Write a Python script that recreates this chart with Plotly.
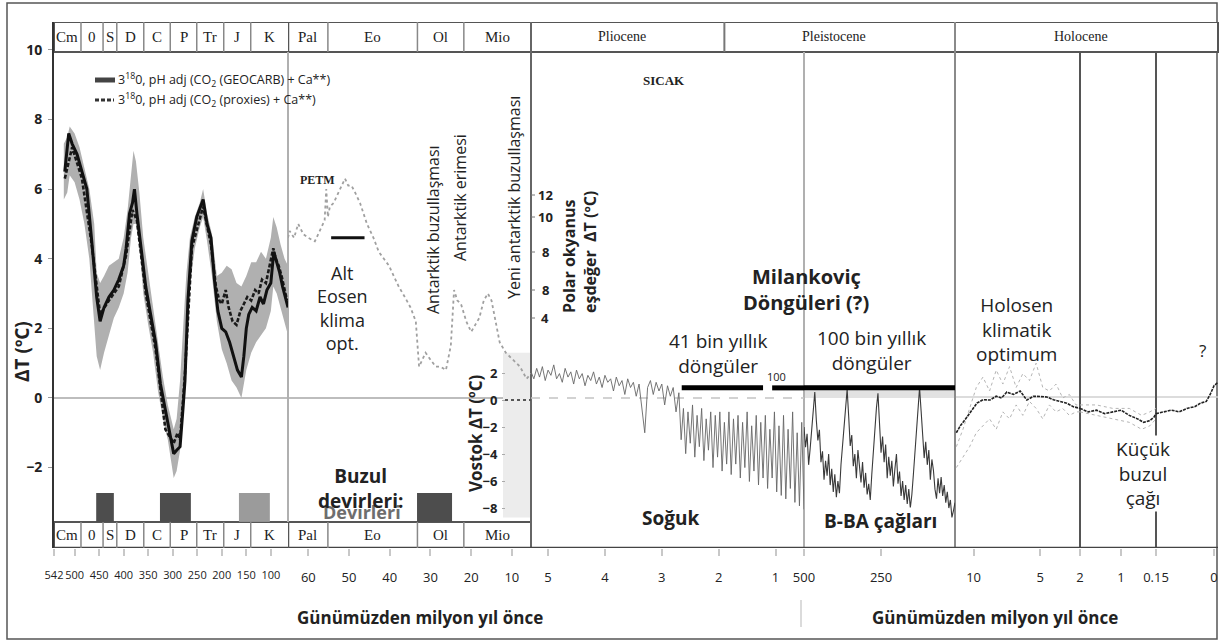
import plotly.graph_objects as go

# ---------------------------------------------------------------- data
# Phanerozoic, ages in Ma, temperature anomaly in degC
PHAN_AGE = [520, 512, 505, 495, 485, 475, 465, 455, 448, 440,
            430, 420, 410, 400, 395, 388, 382, 378, 373, 365,
            355, 345, 335, 325, 312, 302, 298, 292, 285, 279,
            275, 269, 261, 251, 238, 230, 222, 215, 208, 200,
            192, 184, 176, 168, 160, 155, 150, 145, 138, 130,
            122, 115, 108, 100, 94, 88, 82, 76, 70, 65]
GEOCARB_DT = [6.5, 7.6, 7.3, 7.0, 6.5, 6.0, 4.5, 2.9, 2.2, 2.6,
              2.9, 3.1, 3.4, 3.8, 4.3, 5.3, 5.6, 6.0, 5.3, 4.4,
              3.2, 2.4, 1.6, 0.4, -0.6, -1.4, -1.6, -1.5, -1.4, -0.3,
              0.5, 2.8, 4.5, 5.2, 5.7, 5.0, 4.6, 3.4, 2.5, 2.0,
              1.9, 1.6, 1.2, 0.8, 0.6, 1.2, 2.0, 2.4, 2.6, 2.5,
              2.9, 2.7, 3.1, 3.3, 4.2, 3.9, 3.6, 3.2, 2.9, 2.6]

PROXY_AGE = [520, 505, 485, 465, 448, 430, 410, 395, 382, 373,
             355, 335, 315, 302, 298, 290, 285, 275, 261, 238,
             222, 212, 205, 200, 196, 192, 186, 178, 170, 162,
             155, 148, 140, 132, 125, 118, 110, 102, 95, 90,
             84, 78, 72, 67]
PROXY_DT = [6.3, 7.2, 6.3, 4.4, 2.4, 2.8, 3.2, 4.1, 5.4, 5.1,
            3.0, 1.4, -0.9, -1.2, -1.3, -1.0, -1.2, 0.7, 4.3, 5.5,
            4.4, 3.2, 2.8, 2.7, 2.9, 3.1, 2.6, 2.2, 2.1, 2.5,
            2.7, 2.9, 2.8, 3.1, 3.0, 3.4, 3.3, 3.8, 4.3, 4.0,
            3.8, 3.5, 3.1, 2.8]

BAND_AGE = [522, 515, 510, 500, 490, 480, 470, 460, 455, 448,
            440, 430, 420, 410, 400, 392, 385, 380, 375, 368,
            360, 350, 340, 330, 320, 310, 302, 298, 292, 285,
            278, 272, 265, 255, 245, 238, 230, 220, 210, 200,
            190, 180, 170, 160, 150, 140, 130, 120, 110, 100,
            95, 88, 80, 72, 65]
BAND_LO = [5.7, 5.9, 6.4, 6.2, 5.7, 5.0, 4.0, 2.2, 1.2, 0.8,
           1.3, 1.8, 2.3, 2.6, 3.0, 3.6, 4.6, 5.0, 5.0, 4.4,
           3.0, 2.1, 1.3, 0.2, -0.6, -1.2, -1.9, -2.3, -2.1, -1.5,
           0.0, 1.8, 3.2, 4.3, 4.9, 5.2, 4.5, 3.5, 2.2, 1.4,
           1.0, 0.5, 0.3, 0.0, 0.8, 1.3, 1.6, 1.8, 2.0, 2.5,
           3.2, 3.0, 2.6, 2.2, 1.8]
BAND_HI = [7.3, 7.5, 7.8, 7.6, 7.2, 6.6, 6.0, 5.0, 3.6, 3.3,
           3.5, 3.8, 3.9, 4.0, 4.6, 5.4, 6.4, 7.1, 6.8, 5.9,
           4.6, 3.6, 2.6, 1.5, 0.6, -0.2, -0.7, -0.9, -0.6, 0.5,
           2.2, 3.6, 4.6, 5.2, 5.6, 6.0, 5.3, 4.7, 3.5, 3.6,
           3.8, 3.7, 3.3, 3.2, 3.5, 3.9, 3.9, 4.2, 4.0, 4.6,
           5.2, 4.9, 4.4, 4.0, 3.8]

# Cenozoic deep-sea record, Ma
CENO_AGE = [65.0, 64.6, 63.5, 62.5, 61.2, 60.0, 58.4, 57.5, 56.8, 56.0,
            55.6, 55.2, 54.7, 53.8, 53.0, 52.0, 51.0, 50.2, 49.4, 48.5,
            47.3, 45.6, 44.0, 42.7, 41.5, 40.2, 39.0, 37.8, 36.3, 34.9,
            33.6, 33.2, 32.8, 32.0, 31.2, 30.0, 28.7, 27.5, 26.2, 25.0,
            24.6, 24.2, 23.4, 22.5, 21.2, 20.0, 19.0, 18.0, 16.9, 15.9,
            15.0, 14.3, 13.6, 13.0, 11.5, 9.7, 8.0, 6.4, 5.3]
CENO_DT = [4.6, 4.8, 4.6, 5.0, 4.7, 4.6, 4.5, 4.7, 4.9, 5.1,
           6.0, 5.2, 5.5, 5.6, 5.8, 6.0, 6.3, 6.1, 6.1, 5.9,
           5.6, 5.0, 4.6, 4.2, 4.0, 3.8, 3.5, 3.2, 2.9, 2.6,
           2.2, 1.4, 0.9, 1.1, 1.3, 1.1, 0.9, 0.9, 0.8, 1.5,
           2.4, 3.1, 2.8, 2.7, 2.2, 1.9, 2.1, 2.3, 2.8, 3.0,
           2.8, 2.4, 1.9, 1.6, 1.3, 1.1, 0.9, 0.55, 0.7]

# Pliocene - Pleistocene benthic stack, Ma
PLIO_AGE = [5.30, 5.25, 5.20, 5.15, 5.10, 5.05, 5.00, 4.95, 4.90, 4.85,
            4.80, 4.75, 4.70, 4.65, 4.60, 4.55, 4.50, 4.45, 4.40, 4.35,
            4.30, 4.25, 4.20, 4.15, 4.10, 4.05, 4.00, 3.95, 3.90, 3.85,
            3.80, 3.75, 3.70, 3.65, 3.60, 3.55, 3.50, 3.45, 3.40, 3.35,
            3.30, 3.25, 3.20, 3.15, 3.10, 3.05, 3.00, 2.95, 2.90, 2.85,
            2.80, 2.75, 2.70, 2.66, 2.62, 2.58, 2.54, 2.50, 2.46, 2.42,
            2.38, 2.34, 2.30, 2.26, 2.22, 2.18, 2.14, 2.10, 2.06, 2.02,
            1.98, 1.94, 1.90, 1.86, 1.82, 1.78, 1.74, 1.70, 1.66, 1.62,
            1.58, 1.54, 1.50, 1.46, 1.42, 1.38, 1.34, 1.30, 1.26, 1.22,
            1.18, 1.14, 1.10, 1.06, 1.02, 0.98, 0.94, 0.90, 0.86, 0.82,
            0.78, 0.74, 0.70, 0.66, 0.62, 0.58, 0.54, 0.50]
PLIO_DT = [0.75, 0.55, 0.85, 0.60, 0.90, 0.50, 0.80, 0.65, 0.95, 0.55,
           0.70, 0.45, 0.85, 0.60, 0.75, 0.40, 0.80, 0.55, 0.70, 0.35,
           0.65, 0.50, 0.75, 0.40, 0.60, 0.30, 0.65, 0.45, 0.55, 0.20,
           0.60, 0.35, 0.50, 0.10, 0.55, 0.30, 0.45, 0.05, 0.40, -0.30,
           -1.00, 0.30, 0.50, 0.10, 0.45, 0.20, 0.40, -0.20, 0.35, 0.05,
           0.30, -0.40, 0.15, -1.20, -0.30, -1.60, -0.40, -1.30, -0.20, -1.70,
           -0.50, -1.40, -0.30, -1.80, -0.60, -1.50, -0.40, -2.00, -0.50, -1.70,
           -0.40, -2.10, -0.70, -1.90, -0.40, -2.20, -0.60, -1.90, -0.50, -2.30,
           -0.70, -2.00, -0.40, -2.40, -0.80, -2.10, -0.50, -2.50, -0.70, -2.30,
           -0.50, -2.60, -0.90, -2.30, -0.40, -2.70, -0.80, -2.80, -0.50, -2.90,
           -0.90, -2.60, -0.40, -3.00, -1.00, -3.10, -0.70, -3.20]

# Vostok ice core, ka, on its own temperature scale
VOSTOK_AGE_KA = [500, 495, 490, 485, 480, 475, 470, 465, 460, 455,
                 450, 445, 440, 435, 430, 425, 420, 415, 410, 405,
                 400, 395, 390, 385, 380, 375, 370, 365, 360, 355,
                 350, 345, 340, 335, 330, 325, 320, 315, 310, 305,
                 300, 295, 290, 285, 280, 275, 270, 265, 260, 255,
                 250, 245, 240, 235, 230, 225, 220, 215, 210, 205,
                 200, 195, 190, 185, 180, 175, 170, 165, 160, 155,
                 150, 145, 140, 135, 130, 125, 120, 115, 110, 105,
                 100, 95, 90, 85, 80, 75, 70, 65, 60, 55,
                 50, 45, 40, 35, 30, 25, 20, 15, 10]
VOSTOK_DT = [-2.0, -3.5, -2.5, -4.8, -3.6, -2.2, -0.8, 0.6, -1.5, -3.0,
             -2.2, -4.6, -3.8, -5.9, -4.5, -5.6, -4.0, -6.3, -5.1, -6.8,
             -5.5, -7.2, -6.0, -6.9, -4.8, -3.5, -1.8, -0.5, 0.8, -1.2,
             -3.4, -2.6, -4.9, -4.0, -5.8, -3.7, -5.2, -6.1, -4.6, -6.5,
             -5.4, -7.0, -6.2, -7.4, -5.5, -3.6, -1.9, -0.6, 0.5, -1.8,
             -3.9, -2.7, -4.6, -3.3, -5.8, -4.2, -5.6, -4.5, -6.4, -5.1,
             -4.0, -6.2, -5.3, -7.1, -6.0, -7.4, -6.3, -7.7, -6.6, -8.0,
             -7.0, -5.5, -3.8, -2.0, -0.6, 0.9, -0.8, -2.6, -4.3, -3.1,
             -4.8, -3.7, -5.9, -4.4, -5.2, -6.6, -7.3, -5.8, -6.9, -5.7,
             -7.1, -6.3, -7.6, -6.8, -8.0, -7.4, -8.7, -8.2, -7.6]

# Holocene, ka
HOLO_AGE_KA = [11.3, 11.0, 10.5, 10.0, 9.75, 9.3, 8.77, 8.3, 7.9, 7.5,
               7.0, 6.5, 6.0, 5.5, 5.0, 4.5, 4.0, 3.5, 3.0, 2.5,
               2.0, 1.8, 1.6, 1.4, 1.2, 1.0, 0.8, 0.6, 0.45, 0.3,
               0.2, 0.15, 0.13, 0.11, 0.09, 0.07, 0.05, 0.035, 0.02, 0.01,
               0.0, -0.01]
HOLO_DT = [-1.0, -0.8, -0.55, -0.3, -0.15, -0.05, -0.06, 0.05, 0.0, 0.17,
           0.1, 0.2, -0.06, 0.05, 0.03, 0.03, -0.05, -0.1, -0.15, -0.25,
           -0.3, -0.4, -0.35, -0.45, -0.4, -0.35, -0.5, -0.6, -0.7, -0.65,
           -0.55, -0.45, -0.4, -0.35, -0.4, -0.3, -0.25, -0.15, -0.1, 0.1,
           0.35, 0.45]
HOLO_AGE_B = [11.3, 10.8, 10.3, 9.8, 9.3, 8.8, 8.3, 7.8, 7.3, 6.8,
              6.3, 5.8, 5.3, 4.8, 4.3, 3.8, 3.3, 2.8, 2.3, 2.0,
              1.6, 1.2, 0.8, 0.5, 0.3, 0.15]
HOLO_WARM_DT = [-1.4, -0.9, -0.3, 0.3, 0.6, 0.2, 0.8, 0.4, 0.9, 0.3,
                0.7, 0.5, 1.0, 0.3, 0.2, 0.4, 0.0, 0.1, -0.2, -0.2,
                -0.2, -0.3, -0.3, -0.5, -0.4, -0.3]
HOLO_COOL_DT = [-2.0, -1.7, -1.4, -1.0, -0.8, -0.6, -0.9, -0.4, -0.6, -0.2,
                -0.5, -0.1, -0.3, -0.6, -0.2, -0.4, -0.3, -0.5, -0.4, -0.4,
                -0.5, -0.6, -0.7, -0.9, -0.8, -0.6]

# geological time scale
PERIODS_A = ["Cm", "0", "S", "D", "C", "P", "Tr", "J", "K"]
PERIOD_EDGES_A = [542, 487, 442, 414, 359, 305, 251, 196, 141, 65]
PERIODS_B = ["Pal", "Eo", "Ol", "Mio"]
PERIOD_EDGES_B = [65, 55.2, 33.2, 21.8, 5.3]
EPOCHS = ["Pliocene", "Pleistocene", "Holocene"]
PLEISTOCENE_START_MA = 1.9

# glaciations (Ma) and their shade
GLACIALS_A = [(456, 420), (326, 263), (165, 102)]
GLACIAL_SHADES_A = ["#4d4d4d", "#4d4d4d", "#9b9b9b"]
GLACIALS_B = [(33.3, 24.7)]

EECO_SPAN = (54.4, 46.2)
EECO_DT = 4.6
CYCLE41_SPAN_MA = (2.65, 1.22)
CYCLE100_START_MA = 1.06
CYCLE100_END_KA = 10
CYCLE_LEVEL = 0.29

POLAR_TICKS = ["12", "10", "8", "8", "4"]

# ---------------------------------------------------------------- layout helpers
L, R, T, B = 54, 1218, 22, 548          # plot area in pixels
YR = (-4.31, 10.8)

# panel: pixel span, value span
SEG = {
    "x":  (54, 288, 542, 65),
    "x2": (288, 531, 65, 5.3),
    "x3": (531, 804, 5.3, 0.5),
    "x4": (804, 955, 500, 10),
    "x5": (955, 1080, 11.4, 2.0),
    "x6": (1080, 1156, 2.0, 0.15),
    "x7": (1156, 1218, 0.15, -0.0103),
}


def P(px):
    return (px - L) / (R - L)


def Q(py):
    return (B - py) / (B - T)


def xpx(ax, v):
    p0, p1, v0, v1 = SEG[ax]
    return p0 + (v - v0) * (p1 - p0) / (v1 - v0)


fig = go.Figure()

# Phanerozoic band and curves
fig.add_trace(go.Scatter(x=BAND_AGE, y=BAND_HI, mode="lines", line=dict(width=0),
                         xaxis="x", yaxis="y", hoverinfo="skip", showlegend=False))
fig.add_trace(go.Scatter(x=BAND_AGE, y=BAND_LO, mode="lines", line=dict(width=0),
                         fill="tonexty", fillcolor="#b0b0b0",
                         xaxis="x", yaxis="y", hoverinfo="skip", showlegend=False))
fig.add_trace(go.Scatter(x=PROXY_AGE, y=PROXY_DT, mode="lines",
                         line=dict(color="#1a1a1a", width=2.6, dash="4px,2px"),
                         xaxis="x", yaxis="y", showlegend=False))
fig.add_trace(go.Scatter(x=PHAN_AGE, y=GEOCARB_DT, mode="lines",
                         line=dict(color="#111111", width=3),
                         xaxis="x", yaxis="y", showlegend=False))

# Cenozoic
fig.add_trace(go.Scatter(x=CENO_AGE, y=CENO_DT, mode="lines",
                         line=dict(color="#a0a0a0", width=1.8, dash="dot"),
                         xaxis="x2", yaxis="y", showlegend=False))

# Pliocene - Pleistocene
fig.add_trace(go.Scatter(x=PLIO_AGE, y=PLIO_DT, mode="lines",
                         line=dict(color="#666666", width=0.9),
                         xaxis="x3", yaxis="y", showlegend=False))

# Vostok
fig.add_trace(go.Scatter(x=VOSTOK_AGE_KA, y=VOSTOK_DT, mode="lines",
                         line=dict(color="#3a3a3a", width=1.1),
                         xaxis="x4", yaxis="y2", showlegend=False))


# Holocene, split over its three panels
def holo_part(ages, vals, ax):
    p0, p1, v0, v1 = SEG[ax]
    lo, hi = min(v0, v1), max(v0, v1)
    pts = [(a, v) for a, v in zip(ages, vals) if lo - 1e-9 <= a <= hi + 1e-9]
    return [p[0] for p in pts], [p[1] for p in pts]


for ax in ("x5", "x6", "x7"):
    for vals in (HOLO_WARM_DT, HOLO_COOL_DT):
        xs, ys = holo_part(HOLO_AGE_B, vals, ax)
        if xs:
            fig.add_trace(go.Scatter(x=xs, y=ys, mode="lines",
                                     line=dict(color="#b5b5b5", width=1, dash="dot"),
                                     xaxis=ax, yaxis="y", showlegend=False))
    xs, ys = holo_part(HOLO_AGE_KA, HOLO_DT, ax)
    fig.add_trace(go.Scatter(x=xs, y=ys, mode="lines",
                             line=dict(color="#222222", width=1.6, dash="3px,1px"),
                             xaxis=ax, yaxis="y", showlegend=False))

# ---------------------------------------------------------------- axes
TICKS = {
    "x": ([542, 500, 450, 400, 350, 300, 250, 200, 150, 100], None),
    "x2": ([60, 50, 40, 30, 20, 10], None),
    "x3": ([5, 4, 3, 2, 1], None),
    "x4": ([499.9, 250], ["500", "250"]),
    "x5": ([10, 5], None),
    "x6": ([1.999, 1], ["2", "1"]),
    "x7": ([0.1499, 0], ["0.15", "0"]),
}
layout_axes = {}
for ax, (p0, p1, v0, v1) in SEG.items():
    tv, tt = TICKS[ax]
    key = "xaxis" if ax == "x" else "xaxis" + ax[1:]
    layout_axes[key] = dict(
        domain=[P(p0), P(p1)], range=[v0, v1], anchor="y",
        tickvals=tv, ticktext=tt if tt else [str(t) for t in tv],
        ticks="outside", ticklen=7, tickcolor="#c8c8c8", tickwidth=1.5,
        tickangle=0, ticklabelstandoff=10,
        tickfont=dict(family="Open Sans", size=11 if ax == "x" else 13, color="#222"),
        showgrid=False, zeroline=False, showline=False,
    )

layout_axes["yaxis"] = dict(
    range=list(YR), tickvals=[10, 8, 6, 4, 2, 0, -2],
    ticks="outside", ticklen=4, tickcolor="#999",
    showline=True, linecolor="#333", linewidth=2,
    tickfont=dict(family="Open Sans", size=14, color="#222", weight="bold"),
    showgrid=False, zeroline=False, ticklabelstandoff=3,
)
layout_axes["yaxis2"] = dict(
    overlaying="y", anchor="free", position=P(505), side="left",
    range=[-10.96, 28.0], tickvals=[2, 0, -2, -4, -6, -8],
    ticks="outside", ticklen=3, tickcolor="#aaa",
    tickfont=dict(family="Open Sans", size=13, color="#222", weight="bold"),
    showline=False, showgrid=False, zeroline=False, ticklabelstandoff=2,
)

# ---------------------------------------------------------------- shapes
shapes = []


def pline(x0, y0, x1, y1, color, width, dash="solid"):
    shapes.append(dict(type="line", xref="paper", yref="paper",
                       x0=P(x0), x1=P(x1), y0=Q(y0), y1=Q(y1),
                       line=dict(color=color, width=width, dash=dash), layer="above"))


# outer frame
shapes.append(dict(type="rect", xref="paper", yref="paper",
                   x0=P(7), x1=P(1217), y0=Q(639), y1=Q(3),
                   line=dict(color="#555", width=1.5), layer="below"))

# zero lines and reference bands
shapes.append(dict(type="line", xref="paper", yref="y", x0=0, x1=P(503), y0=0, y1=0,
                   line=dict(color="#bdbdbd", width=2), layer="below"))
shapes.append(dict(type="rect", xref="paper", yref="y2", x0=P(503), x1=P(530),
                   y0=-8.7, y1=3.5, fillcolor="#ececec", line=dict(width=0), layer="below"))
shapes.append(dict(type="line", xref="paper", yref="y2", x0=P(505), x1=P(531), y0=0, y1=0,
                   line=dict(color="#555", width=2, dash="dot"), layer="above"))
shapes.append(dict(type="line", xref="x3", yref="y", x0=5.3, x1=0.5, y0=0, y1=0,
                   line=dict(color="#c4c4c4", width=1.5, dash="dash"), layer="below"))
shapes.append(dict(type="rect", xref="x4", yref="y", x0=500, x1=10, y0=0, y1=0.35,
                   fillcolor="#e2e2e2", line=dict(width=0), layer="below"))
shapes.append(dict(type="line", xref="paper", yref="y", x0=P(955), x1=1, y0=0.03, y1=0.03,
                   line=dict(color="#d0d0d0", width=1.5), layer="below"))

# glaciation bars
g_top, g_bot = -2.73, -3.56
for (a0, a1), col in zip(GLACIALS_A, GLACIAL_SHADES_A):
    shapes.append(dict(type="rect", xref="x", yref="y", x0=a0, x1=a1, y0=g_bot, y1=g_top,
                       fillcolor=col, line=dict(width=0)))
for a0, a1 in GLACIALS_B:
    shapes.append(dict(type="rect", xref="x2", yref="y", x0=a0, x1=a1, y0=g_bot, y1=g_top,
                       fillcolor="#4d4d4d", line=dict(width=0)))

# climate optimum and orbital-cycle bars
shapes.append(dict(type="line", xref="x2", yref="y", x0=EECO_SPAN[0], x1=EECO_SPAN[1],
                   y0=EECO_DT, y1=EECO_DT, line=dict(color="#111", width=3)))
shapes.append(dict(type="line", xref="x3", yref="y", x0=CYCLE41_SPAN_MA[0],
                   x1=CYCLE41_SPAN_MA[1], y0=CYCLE_LEVEL, y1=CYCLE_LEVEL,
                   line=dict(color="#000", width=5)))
shapes.append(dict(type="line", xref="x3", yref="y", x0=CYCLE100_START_MA, x1=0.5,
                   y0=CYCLE_LEVEL, y1=CYCLE_LEVEL, line=dict(color="#000", width=5)))
shapes.append(dict(type="line", xref="x4", yref="y", x0=500, x1=CYCLE100_END_KA,
                   y0=CYCLE_LEVEL, y1=CYCLE_LEVEL, line=dict(color="#000", width=5)))

# period rows (top and bottom)
top0, top1 = 9.94, YR[1]
bot0, bot1 = YR[0], -3.56
shapes.append(dict(type="rect", xref="paper", yref="y", x0=0, x1=1, y0=top0, y1=top1,
                   fillcolor="white", line=dict(color="#555", width=2), layer="below"))
shapes.append(dict(type="rect", xref="paper", yref="y", x0=0, x1=P(531), y0=bot0, y1=bot1,
                   fillcolor="white", line=dict(color="#555", width=2), layer="below"))
shapes.append(dict(type="line", xref="paper", yref="y", x0=0, x1=1, y0=YR[0], y1=YR[0],
                   line=dict(color="#444", width=2.5)))
for ax, edges in (("x", PERIOD_EDGES_A), ("x2", PERIOD_EDGES_B)):
    for e in edges[1:-1]:
        for y0, y1 in ((top0, top1), (bot0, bot1)):
            shapes.append(dict(type="line", xref=ax, yref="y", x0=e, x1=e, y0=y0, y1=y1,
                               line=dict(color="#888", width=1.5)))
for y0, y1 in ((top0, top1), (bot0, bot1)):
    shapes.append(dict(type="line", xref="x2", yref="y", x0=65, x1=65, y0=y0, y1=y1,
                       line=dict(color="#555", width=2.5)))
shapes.append(dict(type="line", xref="x3", yref="y", x0=PLEISTOCENE_START_MA,
                   x1=PLEISTOCENE_START_MA, y0=top0, y1=top1, line=dict(color="#777", width=2)))

# panel separators
for px, col, y0, y1 in ((288, "#b0b0b0", bot1, top0), (531, "#666", YR[0], YR[1]),
                        (804, "#b0b0b0", YR[0], top0), (955, "#8a8a8a", YR[0], YR[1]),
                        (1080, "#555", YR[0], top0), (1156, "#555", YR[0], top0)):
    shapes.append(dict(type="line", xref="paper", yref="y", x0=P(px), x1=P(px), y0=y0, y1=y1,
                       line=dict(color=col, width=2), layer="below"))

# legend swatches
pline(95, 80, 115, 80, "#444", 5)
pline(95, 100, 114, 100, "#333", 3, "4px,2px")

# polar-scale tick marks
for py in (195, 217, 252, 290, 318):
    pline(531, py, 535, py, "#777", 1)

# divider between the two axis titles
pline(801, 600, 801, 627, "#cfcfcf", 1.5)

# ---------------------------------------------------------------- text
ann = []


def txt(text, x, y, size, bold=False, family="Open Sans", angle=0, color="#222",
        bg=None, xanchor="center", align="center"):
    ann.append(dict(text=f"<b>{text}</b>" if bold else text,
                    x=P(x), y=Q(y), xref="paper", yref="paper", showarrow=False,
                    font=dict(family=family, size=size, color=color),
                    textangle=angle, xanchor=xanchor, yanchor="middle", align=align,
                    bgcolor=bg, borderpad=0))


def period_labels(ax, names, edges):
    for n, a, b in zip(names, edges[:-1], edges[1:]):
        cx = (xpx(ax, a) + xpx(ax, b)) / 2
        for cy in (37, 535):
            txt(n, cx, cy, 15, family="Liberation Serif")


period_labels("x", PERIODS_A, PERIOD_EDGES_A)
period_labels("x2", PERIODS_B, PERIOD_EDGES_B)
epoch_px = [xpx("x3", 5.3), xpx("x3", PLEISTOCENE_START_MA), xpx("x4", 10), R]
for name, a, b in zip(EPOCHS, epoch_px[:-1], epoch_px[1:]):
    txt(name, (a + b) / 2 - 6, 37, 14, family="Liberation Serif")

# legend
txt("3<sup>18</sup>0, pH adj (CO<sub>2</sub> (GEOCARB) + Ca**)", 117, 80, 12.5, xanchor="left")
txt("3<sup>18</sup>0, pH adj (CO<sub>2</sub> (proxies) + Ca**)", 117, 100, 12.5, xanchor="left")

txt("ΔT (ºC)", 22, 352, 19, bold=True, angle=-90)
txt("PETM", 317, 180, 12, bold=True, family="Liberation Serif")
txt("Alt<br>Eosen<br>klima<br>opt.", 342, 308, 18)
txt("Antarktik buzullaşması", 433, 230, 16, angle=-90)
txt("Antarktik erimesi", 460, 198, 16, angle=-90)
txt("Yeni antarktik buzullaşması", 514, 198, 16, angle=-90)
txt("SICAK", 664, 80, 13, bold=True, family="Liberation Serif")
for lab, py in zip(POLAR_TICKS, (195, 217, 252, 290, 318)):
    txt(lab, 545, py, 13, bold=True)
txt("Polar okyanus<br>eşdeğer  ΔT (ºC)", 580, 252, 16, bold=True, angle=-90, align="left")
txt("Vostok ΔT (ºC)", 475, 433, 17, bold=True, angle=-90)
txt("Milankoviç", 806, 276, 20, bold=True)
txt("Döngüleri (?)", 806, 302, 20, bold=True)
txt("41 bin yıllık<br>döngüler", 718, 353, 19)
txt("100", 776, 377, 11, bg="white")
txt("100 bin yıllık<br>döngüler", 872, 350, 19)
txt("Holosen<br>klimatik<br>optimum", 1017, 329, 19)
txt("?", 1202, 350, 17)
txt("Küçük<br>buzul<br>çağı", 1143, 473, 19, bg="white")
txt("Soğuk", 670, 518, 19, bold=True)
txt("B-BA çağları", 880, 521, 19, bold=True, bg="white")
txt("Devirleri", 362, 512, 18, bold=True, color="#6e6e6e")
txt("Buzul<br>devirleri:", 360, 488, 19, bold=True)
txt("Günümüzden milyon yıl önce", 420, 617, 17, bold=True)
txt("Günümüzden milyon yıl önce", 995, 617, 17, bold=True)

fig.update_layout(
    width=1220, height=642,
    margin=dict(l=L, r=1220 - R, t=T, b=642 - B, pad=0),
    paper_bgcolor="white", plot_bgcolor="white",
    showlegend=False, shapes=shapes, annotations=ann,
    **layout_axes,
)

fig.write_html("out.html")
